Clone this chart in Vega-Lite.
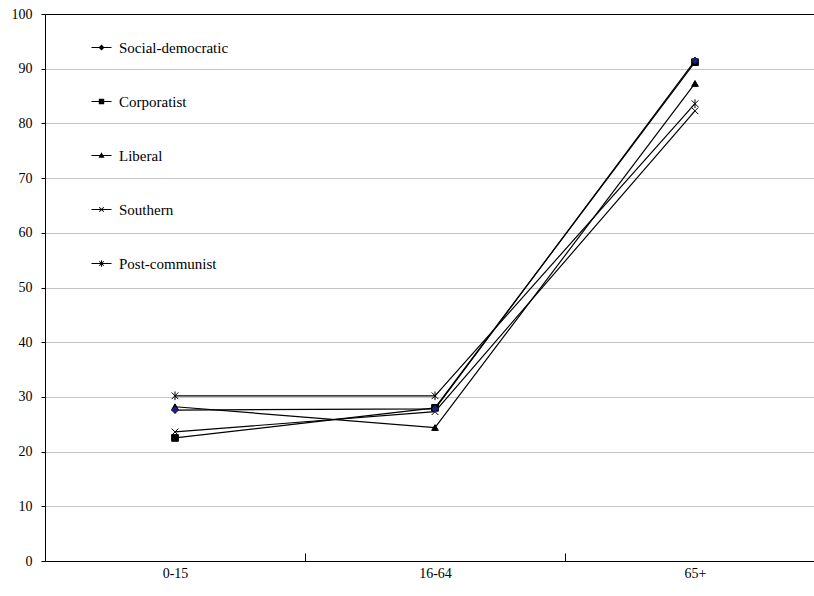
{
  "$schema": "https://vega.github.io/schema/vega-lite/v6.json",
  "width": 769,
  "height": 547,
  "autosize": {"type": "none"},
  "padding": {"left": 45, "top": 14, "right": 0, "bottom": 35},
  "background": "white",
  "config": {
    "view": {"stroke": null},
    "font": "Liberation Serif, Times New Roman, serif",
    "axis": {"labelFont": "Liberation Serif, Times New Roman, serif", "labelFontSize": 14, "labelColor": "black"},
    "legend": {"labelFont": "Liberation Serif, Times New Roman, serif", "labelFontSize": 15, "labelColor": "black"}
  },
  "data": {
    "values": [
      {"regime": "Social-democratic", "age": "0-15", "value": 27.6},
      {"regime": "Social-democratic", "age": "16-64", "value": 27.8},
      {"regime": "Social-democratic", "age": "65+", "value": 91.5},
      {"regime": "Corporatist", "age": "0-15", "value": 22.5},
      {"regime": "Corporatist", "age": "16-64", "value": 28.0},
      {"regime": "Corporatist", "age": "65+", "value": 91.2},
      {"regime": "Liberal", "age": "0-15", "value": 28.2},
      {"regime": "Liberal", "age": "16-64", "value": 24.4},
      {"regime": "Liberal", "age": "65+", "value": 87.3},
      {"regime": "Southern", "age": "0-15", "value": 23.6},
      {"regime": "Southern", "age": "16-64", "value": 27.3},
      {"regime": "Southern", "age": "65+", "value": 82.3},
      {"regime": "Post-communist", "age": "0-15", "value": 30.2},
      {"regime": "Post-communist", "age": "16-64", "value": 30.2},
      {"regime": "Post-communist", "age": "65+", "value": 83.6}
    ]
  },
  "encoding": {
    "x": {
      "field": "age",
      "type": "nominal",
      "sort": ["0-15", "16-64", "65+"],
      "scale": {"range": [0, 780], "paddingInner": 0, "paddingOuter": 0},
      "axis": {
        "title": null,
        "labelAngle": 0,
        "tickBand": "extent",
        "tickSize": -8,
        "tickColor": "black",
        "domainColor": "black",
        "labelPadding": 13,
        "grid": false
      }
    },
    "y": {
      "field": "value",
      "type": "quantitative",
      "scale": {"domain": [0, 100], "nice": false},
      "axis": {
        "title": null,
        "values": [0, 10, 20, 30, 40, 50, 60, 70, 80, 90, 100],
        "grid": true,
        "gridColor": {"condition": {"test": "datum.value === 100", "value": "black"}, "value": "#c4c4c4"},
        "domainColor": "black",
        "tickColor": "black",
        "tickSize": 4,
        "labelPadding": 9
      }
    }
  },
  "layer": [
    {
      "mark": {"type": "line", "color": "black", "strokeWidth": 1.2},
      "encoding": {"detail": {"field": "regime"}}
    },
    {
      "mark": {"type": "point", "filled": true, "opacity": 1, "color": "black", "stroke": "black", "strokeWidth": 1, "size": 45},
      "encoding": {
        "shape": {
          "field": "regime",
          "type": "nominal",
          "scale": {
            "domain": ["Social-democratic", "Corporatist", "Liberal", "Southern", "Post-communist"],
            "range": ["diamond", "square", "triangle-up", "M-1,-1L1,1M-1,1L1,-1", "M-1,-1L1,1M-1,1L1,-1M0,-1.3V1.3"]
          },
          "legend": null
        }
      }
    },
    {
      "transform": [{"filter": "datum.regime === 'Social-democratic'"}],
      "mark": {"type": "point", "shape": "diamond", "filled": true, "opacity": 1, "color": "#1f1f7a", "stroke": "#1f1f7a", "strokeWidth": 1, "size": 40}
    },
    {
      "mark": {"type": "point", "filled": true, "opacity": 1, "color": "black", "stroke": "black", "strokeWidth": 1, "size": 0},
      "encoding": {
        "shape": {
          "field": "regime",
          "type": "nominal",
          "scale": {
            "domain": ["Social-democratic", "Corporatist", "Liberal", "Southern", "Post-communist"],
            "range": [
              "M-1,-0.05H1V0.05H-1Z M0,-0.3L0.3,0L0,0.3L-0.3,0Z",
              "M-1,-0.05H1V0.05H-1Z M-0.27,-0.27H0.27V0.27H-0.27Z",
              "M-1,-0.05H1V0.05H-1Z M0,-0.32L0.3,0.22H-0.3Z",
              "M-1,-0.05H1V0.05H-1Z M-0.26,-0.19L-0.19,-0.26L0.26,0.19L0.19,0.26Z M-0.26,0.19L0.19,-0.26L0.26,-0.19L-0.19,0.26Z",
              "M-1,-0.05H1V0.05H-1Z M-0.26,-0.19L-0.19,-0.26L0.26,0.19L0.19,0.26Z M-0.26,0.19L0.19,-0.26L0.26,-0.19L-0.19,0.26Z M-0.05,-0.32H0.05V0.32H-0.05Z"
            ]
          },
          "legend": {
            "orient": "none",
            "legendX": 46,
            "legendY": 23,
            "title": null,
            "symbolSize": 400,
            "symbolStrokeWidth": 1,
            "symbolStrokeColor": "black",
            "symbolFillColor": "black",
            "symbolOpacity": 1,
            "rowPadding": 35,
            "labelOffset": 7
          }
        }
      }
    }
  ],
  "resolve": {"scale": {"shape": "independent"}, "legend": {"shape": "independent"}}
}
